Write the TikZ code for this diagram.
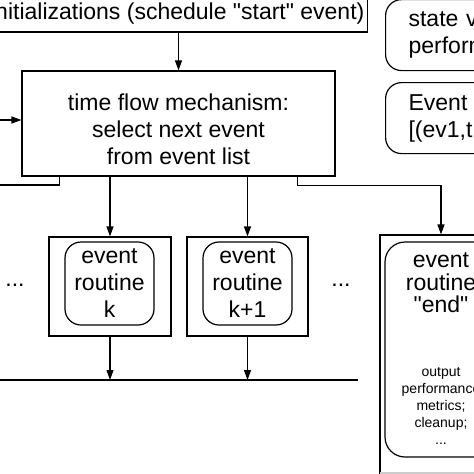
\documentclass[tikz,border=0pt]{standalone}
\usepackage{fontspec}
\newfontfamily\helv{Liberation Sans}
\usetikzlibrary{arrows.meta,positioning}

\begin{document}
\begin{tikzpicture}[x=1pt, y=-1pt, line width=1.2pt,
	box/.style={draw, rectangle, inner sep=0pt},
	rbox/.style={draw, rounded corners=16pt, align=center, inner sep=0pt},
	big/.style={font=\helv\fontsize{23}{27}\selectfont},
	small/.style={font=\helv\fontsize{14}{17}\selectfont},
	arr/.style={-{Triangle[length=10pt,width=7pt]}}]
	\useasboundingbox (0,0) rectangle (474,474);
	\clip (0,0) rectangle (474,474);

	% boxes
	\node[box, big, anchor=east, minimum height=36pt, inner xsep=3pt] (init) at (368,14) {initializations (schedule "start" event)};
	\node[box, minimum width=313pt, minimum height=105pt] (tfm) at (178.5,123.5) {};
	\node[big, align=center] (tfmtext) at ([yshift=-6pt]tfm.center) {time flow mechanism:\\select next event\\from event list};

	\node[box, minimum width=122pt, minimum height=99pt] (evk) at (110,286.5) {};
	\node[rbox, big, minimum width=89pt, minimum height=83pt] (rk) at (109.5,283.5) {event\\routine\\k};
	\node[box, minimum width=121pt, minimum height=99pt] (evkk) at (247.5,286.5) {};
	\node[rbox, big, minimum width=89pt, minimum height=83pt] (rkk) at (247.5,283.5) {event\\routine\\k+1};

	\node[box, minimum width=122pt, minimum height=245pt] (evend) at (441,357.5) {};
	\fill[gray!40] (380,472) rectangle (474,474);
	\node[rbox, minimum width=112pt, minimum height=215pt, rounded corners=20pt] (rend) at (441,349.5) {};
	\node[font=\helv\fontsize{23}{22.5}\selectfont, align=center] (endtitle) at (441,283) {event\\routine\\"end"};
	\node[small, align=center] (endnote) at (441,406) {output\\performance\\metrics;\\cleanup;\\...};

	\node[rbox, big, anchor=north west, align=left, text width=130pt, inner xsep=23pt, minimum height=71pt] (state) at (385,-1) {state v\\perform};
	\node[rbox, big, anchor=north west, align=left, text width=130pt, inner xsep=23pt, minimum height=71pt] (evlist) at (385,82) {Event\\{[}(ev1,t};

	\node[big] (dotsl) at (15,285) {...};
	\node[big] (dotsr) at (341,285) {...};

	% connectors
	\coordinate (inL) at (0,120);
	\coordinate (outL) at (0,185);
	\coordinate (busL) at (0,380);
	\coordinate (busR) at (358,380);

	\draw[arr] (tfm.north |- init.south) -- (tfm.north);
	\draw[arr] (inL) -- (inL -| tfm.west);
	\draw ([xshift=38pt]tfm.south west) |- (outL);
	\draw[arr] (evk.north |- tfm.south) -- (evk.north);
	\draw[arr] (evkk.north |- tfm.south) -- (evkk.north);
	\draw[arr] ([xshift=-38pt]tfm.south east) -- ++(0,9) -| (evend.north);
	\draw (busL) -- (busR);
	\draw[arr] (evk.south) -- (evk.south |- busL);
	\draw[arr] (evkk.south) -- (evkk.south |- busL);
\end{tikzpicture}
\end{document}
